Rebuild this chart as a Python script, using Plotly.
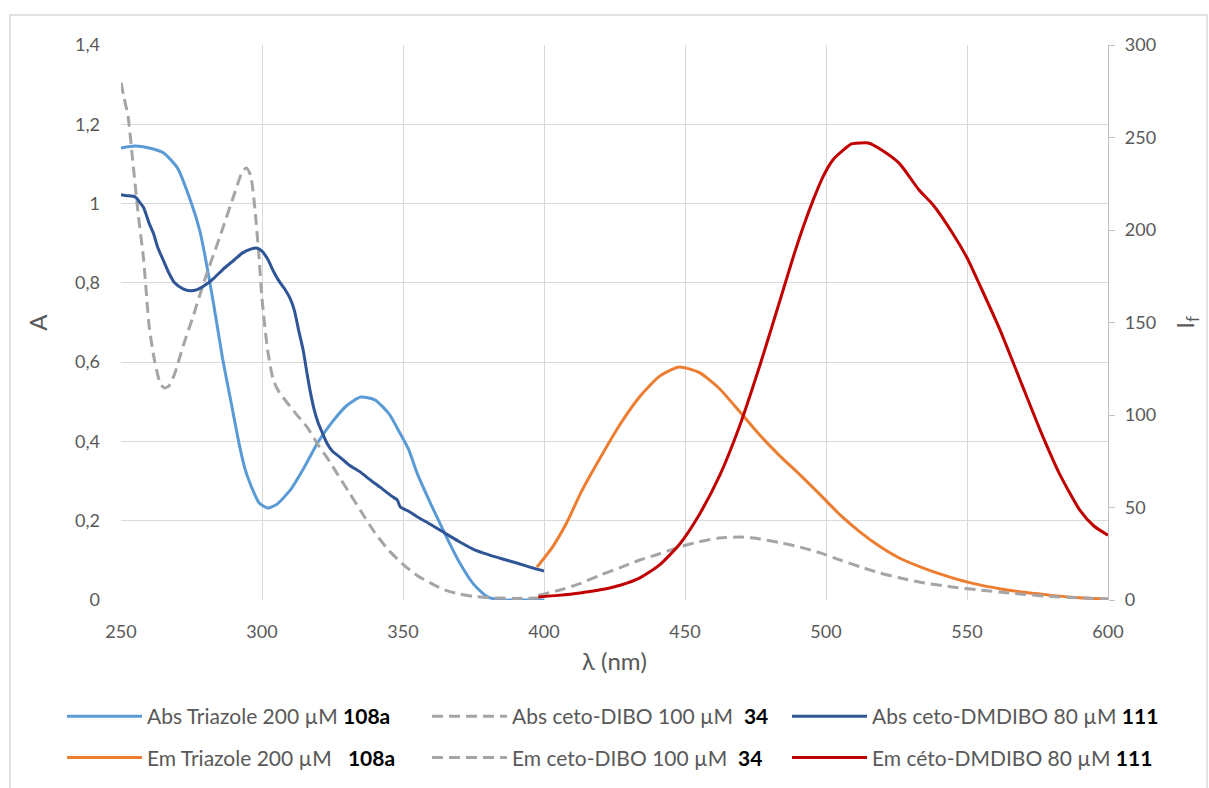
import plotly.graph_objects as go

# ---------------- data ----------------
abs_tri_x = [250, 255, 260, 265, 270, 275, 278, 280, 283, 286, 289, 292, 294, 296, 299, 302, 305, 310,
             315, 320, 325, 330, 335, 340, 345, 349, 352, 355, 360, 365, 370, 375, 380, 385, 390, 395, 400]
abs_tri_y = [1.14, 1.145, 1.14, 1.128, 1.09, 1.0, 0.93, 0.86, 0.74, 0.61, 0.5, 0.39, 0.33, 0.29, 0.245, 0.232,
             0.24, 0.277, 0.335, 0.40, 0.45, 0.49, 0.512, 0.505, 0.47, 0.42, 0.38, 0.32, 0.24, 0.165, 0.095,
             0.04, 0.008, 0.0, 0.0, 0.0, 0.0]

abs_dibo_x = [250, 251, 252.5, 254, 256, 258, 260, 262, 264, 265.5, 267, 269, 272, 275.5, 280, 285, 290, 293,
              294.5, 296, 297.5, 299, 300, 302, 304, 306, 309, 312, 316, 320, 323, 327, 331, 335, 340, 345,
              350, 355, 360, 365, 370, 375, 380, 390, 400]
abs_dibo_y = [1.305, 1.27, 1.22, 1.12, 0.98, 0.86, 0.69, 0.6, 0.545, 0.535, 0.54, 0.57, 0.64, 0.714, 0.815,
              0.915, 1.02, 1.08, 1.09, 1.07, 0.985, 0.86, 0.76, 0.63, 0.555, 0.525, 0.497, 0.47, 0.436, 0.39,
              0.36, 0.315, 0.27, 0.225, 0.17, 0.125, 0.09, 0.062, 0.042, 0.025, 0.015, 0.009, 0.006, 0.004,
              0.005]

abs_dmd_x = [250, 252, 255, 257, 258, 260, 261.5, 263, 265, 267, 269, 272, 274.5, 277, 280, 283, 286, 290, 293,
             296, 298, 300, 302, 304, 306, 308, 310, 311.5, 313, 314.6, 316, 317, 318.5, 320, 321.5, 323, 325,
             327.7, 331, 335, 338, 342, 346, 348, 349, 352, 355, 360, 365, 370, 375, 380, 385, 390, 395, 400]
abs_dmd_y = [1.022, 1.02, 1.017, 1.0, 0.99, 0.95, 0.925, 0.89, 0.857, 0.825, 0.8, 0.785, 0.78, 0.783, 0.795,
             0.812, 0.833, 0.857, 0.875, 0.885, 0.888, 0.88, 0.86, 0.83, 0.805, 0.785, 0.76, 0.73, 0.68, 0.63,
             0.57, 0.53, 0.48, 0.445, 0.42, 0.396, 0.375, 0.36, 0.34, 0.322, 0.305, 0.284, 0.262, 0.252, 0.235,
             0.224, 0.21, 0.19, 0.168, 0.147, 0.128, 0.115, 0.104, 0.094, 0.083, 0.073]

em_tri_x = [397.5, 403, 408, 413, 420, 427, 434, 441, 448, 455, 462, 469.5, 476.6, 483.7, 490.8, 498, 505, 512,
            519, 526, 535, 544, 552, 562, 571, 580, 590, 600]
em_tri_y = [17.8, 28.6, 41.6, 57.8, 77, 95, 110, 121, 126, 123, 114.6, 101.6, 89, 77.8, 67.6, 56.8, 46, 36.8,
            29, 22.7, 17, 12.4, 9, 6, 4, 2.5, 1.2, 0.5]

em_dibo_x = [398, 405.7, 413, 420, 427, 434, 441, 448, 455, 462, 469.5, 476.6, 483.7, 490.8, 498, 505, 512, 519,
             526, 533, 544, 554.6, 566, 579, 590, 600]
em_dibo_y = [2.5, 5.4, 9, 13.5, 17.5, 21.6, 25, 28.6, 31.5, 33.5, 34, 33, 31, 28.6, 25.5, 21.6, 18, 14.6, 12,
             9.7, 7.2, 5.4, 3.6, 2, 1.2, 0.5]

em_dmd_x = [398, 405, 412.8, 420, 427, 434, 441, 448, 455, 462.4, 469.5, 476.6, 483.7, 488.3, 492, 495.4, 499,
            502.5, 506, 509, 512, 515, 520, 526, 533, 538, 545, 550, 554.6, 561.7, 568.8, 575.9, 583, 590, 595,
            600]
em_dmd_y = [1.6, 2.5, 3.8, 5.5, 8, 12, 19, 30, 46, 67.6, 94.6, 127, 162, 185, 202, 216, 229, 238, 243, 246.5,
            247, 247, 243, 236, 221.6, 213.5, 198, 185, 170, 146, 119, 92, 67.6, 48.6, 40, 35]

labels = ["Abs Triazole 200 µM", "Abs ceto-DIBO 100 µM", "Abs ceto-DMDIBO 80 µM",
          "Em Triazole 200 µM", "Em ceto-DIBO 100 µM", "Em céto-DMDIBO 80 µM"]
compounds = ["108a", "34", "111", "108a", "34", "111"]
gaps = [" ", "  ", " ", "   ", "  ", " "]

# ---------------- figure ----------------
fig = go.Figure()
W = 3
DASH = "11px,6px"
specs = [
    (abs_tri_x, abs_tri_y, "#5b9bd5", "solid", "y", "legend"),
    (abs_dibo_x, abs_dibo_y, "#a5a5a5", DASH, "y", "legend2"),
    (abs_dmd_x, abs_dmd_y, "#2f5597", "solid", "y", "legend3"),
    (em_tri_x, em_tri_y, "#ed7d31", "solid", "y2", "legend"),
    (em_dibo_x, em_dibo_y, "#a5a5a5", DASH, "y2", "legend2"),
    (em_dmd_x, em_dmd_y, "#c00000", "solid", "y2", "legend3"),
]
for i, (xs, ys, col, dash, yax, leg) in enumerate(specs):
    name = labels[i] + gaps[i] + "<span style='color:#000000'><b>" + compounds[i] + "</b></span>"
    fig.add_trace(go.Scatter(x=xs, y=ys, name=name, mode="lines", yaxis=yax, legend=leg,
                             legendgroup="g%d" % i,
                             line=dict(color=col, width=W, dash=dash, shape="spline", smoothing=0.6)))

FONT = "Lato, Open Sans, sans-serif"
tickfont = dict(family=FONT, size=18, color="#595959")
titlefont = dict(family=FONT, size=24, color="#595959")
legfont = dict(family=FONT, size=21, color="#595959")


def px2x(px):
    return (px - 121) / 987


def px2y(py):
    return (600 - py) / 555


leg_common = dict(orientation="v", xanchor="left", yanchor="top", y=px2y(696), itemwidth=75,
                  font=legfont, tracegroupgap=11, bgcolor="rgba(0,0,0,0)", borderwidth=0)

fig.update_layout(
    width=1209, height=788,
    margin=dict(l=121, r=101, t=45, b=188, autoexpand=False),
    paper_bgcolor="white", plot_bgcolor="white",
    separators=", ",
    font=dict(family=FONT, color="#595959"),
    xaxis=dict(range=[250, 600], dtick=50, tick0=250, showgrid=True, gridcolor="#d9d9d9", gridwidth=1.3,
               zeroline=False, showline=False, ticks="", tickfont=tickfont, ticklabelstandoff=19,
               automargin=False,
               title=dict(text="λ (nm)", font=titlefont, standoff=12)),
    yaxis=dict(range=[0, 1.4], dtick=0.2, showgrid=True, gridcolor="#d9d9d9", gridwidth=1.3,
               zeroline=False, showline=False, ticks="", tickfont=tickfont, ticklabelstandoff=20,
               automargin=False,
               title=dict(text="A", font=titlefont, standoff=20)),
    yaxis2=dict(range=[0, 300], dtick=50, overlaying="y", side="right", showgrid=False, zeroline=False,
                showline=True, linecolor="#bfbfbf", linewidth=1.3, ticks="outside", ticklen=6,
                tickcolor="#bfbfbf", tickfont=tickfont, ticklabelstandoff=6, automargin=False,
                title=dict(text="I<sub>f</sub>", font=titlefont, standoff=22)),
    legend=dict(x=px2x(62), **leg_common),
    legend2=dict(x=px2x(427), **leg_common),
    legend3=dict(x=px2x(787), **leg_common),
    showlegend=True,
)

fig.add_shape(type="rect", xref="paper", yref="paper",
              x0=px2x(10), x1=px2x(1207), y0=px2y(792), y1=px2y(15),
              line=dict(color="#d9d9d9", width=1.5), fillcolor="rgba(0,0,0,0)", layer="below")

fig.write_html("out.html", config={"displayModeBar": False},
               post_script="document.body.style.margin='0';")
